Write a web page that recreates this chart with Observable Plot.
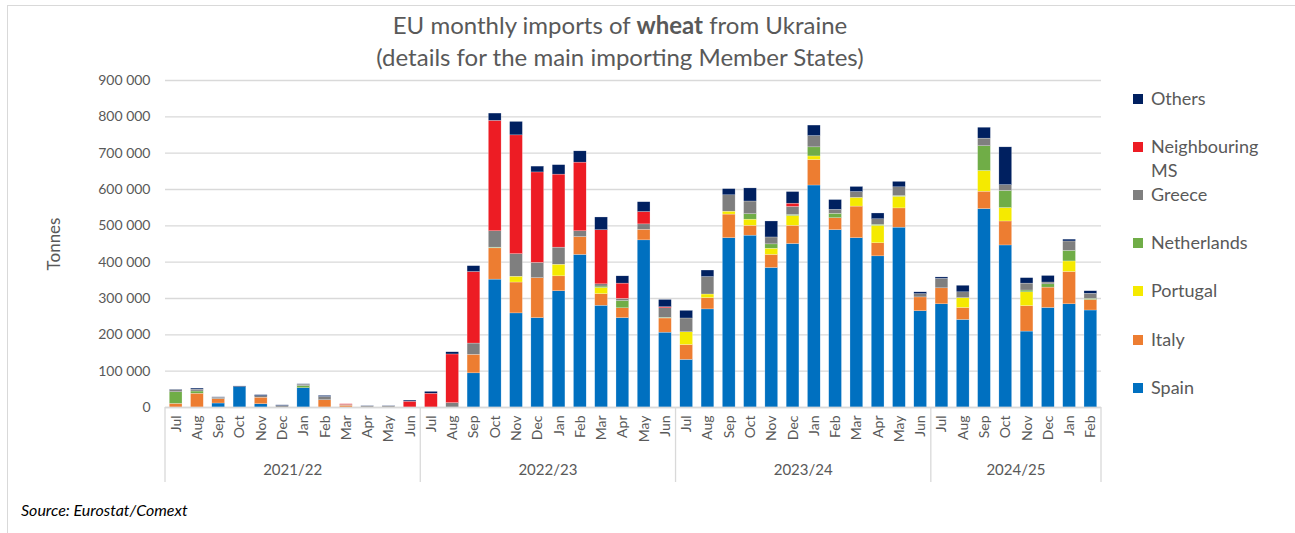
<!DOCTYPE html>
<html>
<head>
<meta charset="utf-8">
<script src="https://cdn.jsdelivr.net/npm/d3@7"></script>
<script src="https://cdn.jsdelivr.net/npm/@observablehq/plot@0.6"></script>
<style>
  html, body { margin: 0; padding: 0; background: #fff; }
  #wrap { position: relative; width: 1295px; height: 533px; font-family: Lato, "Open Sans", sans-serif; color: #595959; overflow: hidden; }
  #frame { position: absolute; left: 7px; top: 5px; width: 1300px; height: 540px; border-left: 1.5px solid #d9d9d9; border-top: 1.5px solid #d9d9d9; }
  #chart { position: absolute; left: 0; top: 0; }
  .title { position: absolute; left: 0; width: 1240px; text-align: center; font-size: 24px; line-height: 32px; }
  #legend { position: absolute; left: 1133px; top: 0; }
  .li { position: absolute; left: 0; font-size: 18px; line-height: 24px; white-space: nowrap; }
  .li span.sw { display: inline-block; width: 10px; height: 10px; margin-right: 8px; vertical-align: 1px; }
  #source { position: absolute; left: 21px; top: 500px; font-size: 16px; font-style: italic; color: #000; }
</style>
</head>
<body>
<div id="wrap">
  <div id="frame"></div>
  <div class="title" style="top:9px">EU monthly imports of <b>wheat</b> from Ukraine</div>
  <div class="title" style="top:41px">(details for the main importing Member States)</div>
  <div id="chart"></div>
  <div id="legend"></div>
  <div id="source">Source: Eurostat/Comext</div>
</div>
<script>
const seasons = ["2021/22", "2022/23", "2023/24", "2024/25"];
const seasonMonths = [
  ["Jul","Aug","Sep","Oct","Nov","Dec","Jan","Feb","Mar","Apr","May","Jun"],
  ["Jul","Aug","Sep","Oct","Nov","Dec","Jan","Feb","Mar","Apr","May","Jun"],
  ["Jul","Aug","Sep","Oct","Nov","Dec","Jan","Feb","Mar","Apr","May","Jun"],
  ["Jul","Aug","Sep","Oct","Nov","Dec","Jan","Feb"]
];
const seriesNames = ["Spain", "Italy", "Portugal", "Netherlands", "Greece", "Neighbouring MS", "Others"];
const seriesColors = ["#0070C0", "#ED7D31", "#F5EA00", "#70AD47", "#7F7F7F", "#ED1C24", "#002060"];

// tonnes, in month order across the four seasons
const spain = [
  0, 0, 11000, 56000, 9000, 0, 53000, 0, 0, 0, 0, 0,
  0, 0, 94000, 352000, 259000, 246000, 320000, 420000, 280000, 246000, 460000, 206000,
  131000, 270000, 466000, 473000, 384000, 450000, 611000, 488000, 466000, 416000, 495000, 265000,
  284000, 241000, 546000, 446000, 209000, 274000, 284000, 267000
];
const italy = [
  10000, 38000, 12000, 0, 18000, 0, 0, 20000, 5000, 0, 0, 0,
  0, 0, 51000, 86000, 85000, 110000, 41000, 49000, 32000, 27000, 29000, 39000,
  41000, 31000, 65000, 27000, 36000, 50000, 70000, 33000, 87000, 36000, 53000, 38000,
  44000, 33000, 48000, 66000, 70000, 56000, 89000, 29000
];
const portugal = [
  0, 0, 0, 0, 0, 0, 0, 0, 0, 0, 0, 0,
  0, 0, 0, 0, 16000, 0, 32000, 0, 17000, 0, 0, 0,
  35000, 10000, 8000, 17000, 17000, 27000, 10000, 0, 24000, 48000, 32000, 0,
  0, 27000, 57000, 37000, 38000, 0, 29000, 0
];
const netherlands = [
  32000, 6000, 0, 0, 0, 0, 6000, 0, 0, 0, 0, 0,
  0, 0, 0, 2000, 0, 0, 0, 0, 4000, 20000, 0, 2000,
  0, 0, 0, 15000, 12000, 3000, 25000, 12000, 0, 3000, 2000, 0,
  0, 0, 68000, 47000, 5000, 9000, 29000, 3000
];
const greece = [
  6000, 5000, 4000, 0, 4000, 4000, 4000, 9000, 2000, 3000, 3000, 0,
  0, 12000, 31000, 45000, 62000, 42000, 47000, 16000, 6000, 6000, 15000, 26000,
  38000, 48000, 45000, 35000, 19000, 22000, 31000, 11000, 16000, 15000, 24000, 9000,
  26000, 16000, 21000, 16000, 19000, 5000, 26000, 14000
];
const neighbouring = [
  0, 0, 0, 0, 0, 0, 0, 0, 2000, 0, 0, 16000,
  38000, 134000, 197000, 304000, 327000, 249000, 201000, 189000, 149000, 42000, 34000, 3000,
  0, 0, 0, 0, 0, 9000, 0, 0, 0, 0, 0, 0,
  0, 0, 0, 0, 0, 0, 0, 0
];
const others = [
  1000, 3000, 1000, 2000, 3000, 2000, 1000, 3000, 0, 1000, 1000, 3000,
  5000, 6000, 16000, 20000, 37000, 16000, 26000, 31000, 35000, 20000, 27000, 20000,
  21000, 18000, 17000, 36000, 44000, 32000, 29000, 27000, 14000, 16000, 15000, 5000,
  4000, 18000, 30000, 104000, 15000, 18000, 5000, 7000
];
const yTicks = [0, 100000, 200000, 300000, 400000, 500000, 600000, 700000, 800000, 900000];

const seriesValues = [spain, italy, portugal, netherlands, greece, neighbouring, others];

const keys = [];
seasons.forEach((s, i) => seasonMonths[i].forEach(m => keys.push(s + "|" + m)));

const rows = [];
seriesNames.forEach((name, si) => {
  keys.forEach((k, ki) => rows.push({ key: k, series: name, value: seriesValues[si][ki] }));
});

const fmt = d3.formatLocale({ decimal: ".", thousands: " ", grouping: [3], currency: ["", ""] }).format(",");
const grey = "#595959";

const plot = Plot.plot({
  width: 1295,
  height: 533,
  marginLeft: 165,
  marginRight: 194,
  marginTop: 80,
  marginBottom: 126,
  style: { fontFamily: "Lato, 'Open Sans', sans-serif", color: grey, background: "transparent" },
  x: { type: "band", domain: keys, paddingInner: 0.4, paddingOuter: 0.2, align: 0.5, round: false },
  y: { domain: [0, 900000] },
  color: { domain: seriesNames, range: seriesColors },
  marks: [
    Plot.gridY(yTicks, { stroke: "#d9d9d9", strokeOpacity: 1, strokeWidth: 1.3 }),
    Plot.barY(rows, { x: "key", y: "value", fill: "series", z: "series", stroke: "#ffffff", strokeWidth: 0.4, strokeOpacity: 0.6 }),
    Plot.ruleY([0], { stroke: "#d9d9d9", strokeWidth: 1.3 }),
    Plot.axisY(yTicks, { tickSize: 0, tickPadding: 15, tickFormat: fmt, fontSize: 14, fill: grey,
      label: "Tonnes", labelAnchor: "center", labelOffset: 118, labelArrow: "none" }),
    Plot.axisX({ tickSize: 0, tickPadding: 8, tickRotate: -90, tickFormat: d => d.split("|")[1], fontSize: 14, fill: grey, label: null })
  ]
});

document.getElementById("chart").appendChild(plot);

d3.select(plot).selectAll("text").filter(function () { return this.textContent === "Tonnes"; })
  .attr("font-size", 17);

// season group dividers and labels, positioned from the plot's own x scale
const xs = plot.scale("x");
const half = (xs.step - xs.bandwidth) / 2;
const svg = d3.select(plot);
const y0 = plot.scale("y").apply(0);
const g = svg.append("g");
let idx = 0;
seasons.forEach((s, i) => {
  const n = seasonMonths[i].length;
  const left = xs.apply(keys[idx]) - half;
  const right = xs.apply(keys[idx + n - 1]) + xs.bandwidth + half;
  g.append("line").attr("x1", left).attr("x2", left).attr("y1", y0).attr("y2", y0 + 75)
    .attr("stroke", "#d9d9d9").attr("stroke-width", 1.3);
  if (i === seasons.length - 1) {
    g.append("line").attr("x1", right).attr("x2", right).attr("y1", y0).attr("y2", y0 + 75)
      .attr("stroke", "#d9d9d9").attr("stroke-width", 1.3);
  }
  g.append("text").attr("x", (left + right) / 2).attr("y", y0 + 68).attr("text-anchor", "middle")
    .attr("font-size", 15).attr("fill", grey).text(s);
  idx += n;
});

const legendTops = { "Others": 86, "Neighbouring MS": 134, "Greece": 182, "Netherlands": 230, "Portugal": 278, "Italy": 327, "Spain": 375 };
const legend = document.getElementById("legend");
seriesNames.slice().reverse().forEach(name => {
  const color = seriesColors[seriesNames.indexOf(name)];
  const div = document.createElement("div");
  div.className = "li";
  div.style.top = legendTops[name] + "px";
  if (name === "Neighbouring MS") {
    div.innerHTML = `<span class="sw" style="background:${color}"></span>Neighbouring<br><span style="padding-left:18px">MS</span>`;
  } else {
    div.innerHTML = `<span class="sw" style="background:${color}"></span>${name}`;
  }
  legend.appendChild(div);
});
</script>
</body>
</html>
